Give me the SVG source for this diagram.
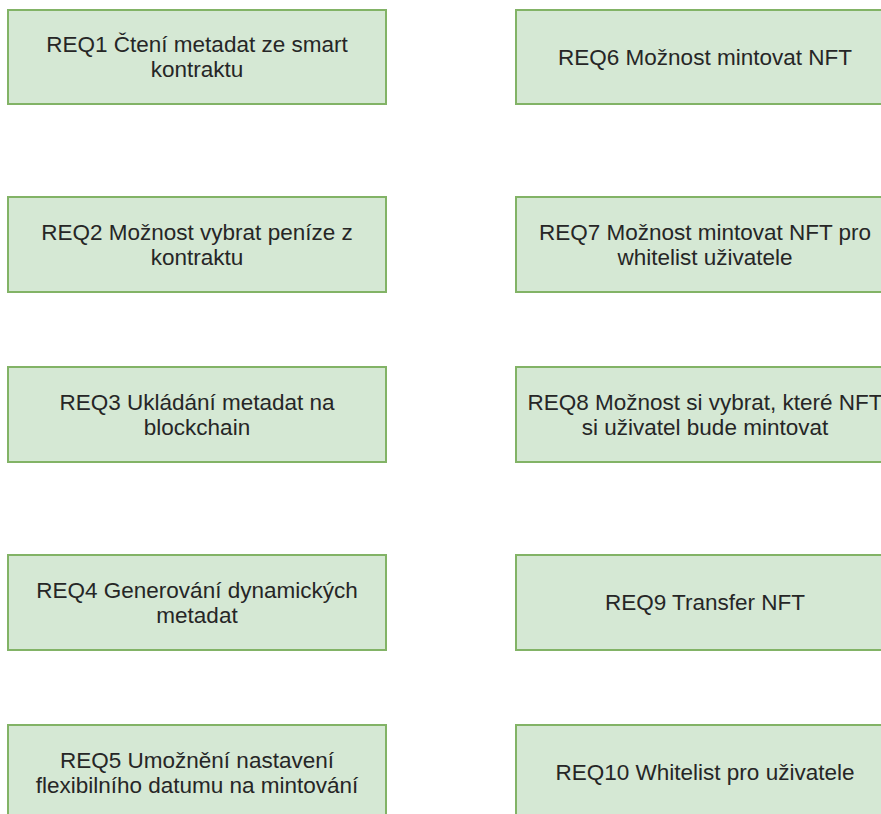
<svg xmlns="http://www.w3.org/2000/svg" width="881" height="814" viewBox="0 0 881 814">
  <style>
    .box { fill: #d5e8d4; stroke: #82b366; stroke-width: 2; }
    .lbl { font-family: "Liberation Sans", Arial, sans-serif; font-size: 22.5px; fill: #262626; text-anchor: middle; }
  </style>
  <rect width="881" height="814" fill="#ffffff"/>
  <g id="connectors"></g>

  <g id="req1">
    <rect class="box" x="8" y="10" width="378" height="94"/>
    <text class="lbl" x="197" y="52">REQ1 Čtení metadat ze smart</text>
    <text class="lbl" x="197" y="77">kontraktu</text>
  </g>
  <g id="req2">
    <rect class="box" x="8" y="197" width="378" height="95"/>
    <text class="lbl" x="197" y="240">REQ2 Možnost vybrat peníze z</text>
    <text class="lbl" x="197" y="265">kontraktu</text>
  </g>
  <g id="req3">
    <rect class="box" x="8" y="367" width="378" height="95"/>
    <text class="lbl" x="197" y="410">REQ3 Ukládání metadat na</text>
    <text class="lbl" x="197" y="435">blockchain</text>
  </g>
  <g id="req4">
    <rect class="box" x="8" y="555" width="378" height="95"/>
    <text class="lbl" x="197" y="598">REQ4 Generování dynamických</text>
    <text class="lbl" x="197" y="623">metadat</text>
  </g>
  <g id="req5">
    <rect class="box" x="8" y="725" width="378" height="95"/>
    <text class="lbl" x="197" y="768">REQ5 Umožnění nastavení</text>
    <text class="lbl" x="197" y="793">flexibilního datumu na mintování</text>
  </g>

  <g id="req6">
    <rect class="box" x="516" y="10" width="378" height="94"/>
    <text class="lbl" x="705" y="65">REQ6 Možnost mintovat NFT</text>
  </g>
  <g id="req7">
    <rect class="box" x="516" y="197" width="378" height="95"/>
    <text class="lbl" x="705" y="240">REQ7 Možnost mintovat NFT pro</text>
    <text class="lbl" x="705" y="265">whitelist uživatele</text>
  </g>
  <g id="req8">
    <rect class="box" x="516" y="367" width="378" height="95"/>
    <text class="lbl" x="705" y="410">REQ8 Možnost si vybrat, které NFT</text>
    <text class="lbl" x="705" y="435">si uživatel bude mintovat</text>
  </g>
  <g id="req9">
    <rect class="box" x="516" y="555" width="378" height="95"/>
    <text class="lbl" x="705" y="610">REQ9 Transfer NFT</text>
  </g>
  <g id="req10">
    <rect class="box" x="516" y="725" width="378" height="95"/>
    <text class="lbl" x="705" y="780">REQ10 Whitelist pro uživatele</text>
  </g>
</svg>
